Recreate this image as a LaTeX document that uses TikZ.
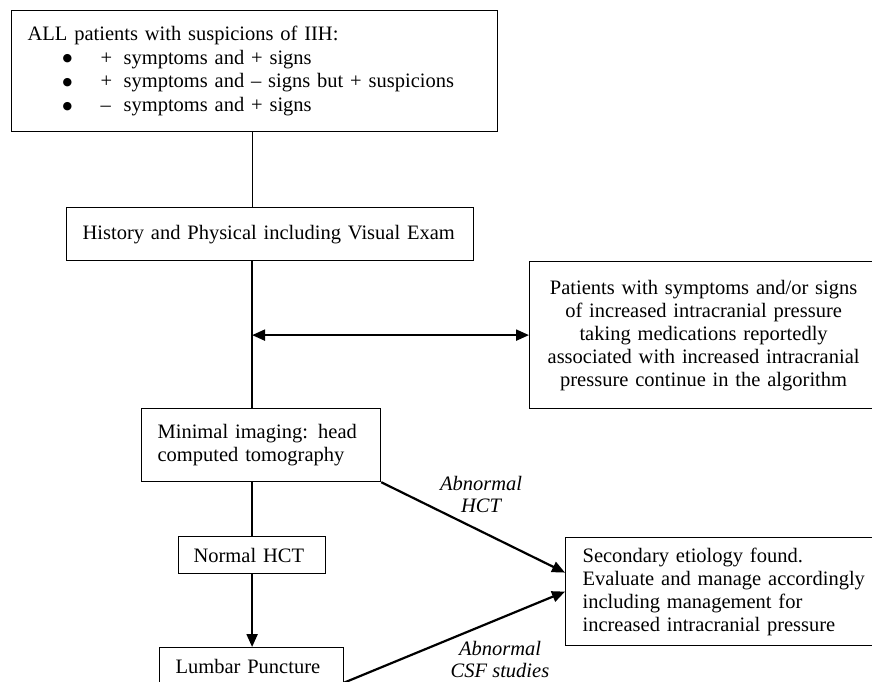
\documentclass[tikz,border=0pt]{standalone}
\usepackage{fontspec}
\setmainfont{Liberation Serif}
\newfontfamily\symfont{DejaVu Sans}
\usetikzlibrary{arrows.meta,calc}
\newcommand{\bigbul}{\makebox[38pt][l]{\raisebox{2.5pt}{\symfont\fontsize{11}{11}\selectfont ●}}}
\tikzset{
  box/.style={draw,line width=1.2pt,anchor=north west,inner xsep=16pt,inner ysep=0pt,align=left},
  wire/.style={line width=2.2pt},
  lbl/.style={font=\fontsize{20.5}{22}\selectfont\itshape,align=center},
}
\begin{document}
\begin{tikzpicture}[x=1pt,y=-1pt,>={Triangle[length=13pt,width=11pt]},font=\fontsize{20.5}{23}\selectfont]
\path[use as bounding box,fill=white] (0,0) rectangle (872,681);
% boxes on the left
\node[box,font=\fontsize{20.5}{23.7}\selectfont,text width=454pt,minimum height=121pt] (all) at (11,10){ALL patients with suspicions of IIH:\\
\hspace*{35pt}\bigbul\makebox[23pt][l]{+}symptoms and + signs\\
\hspace*{35pt}\bigbul\makebox[23pt][l]{+}symptoms and -- signs but + suspicions\\
\hspace*{35pt}\bigbul\makebox[23pt][l]{--}symptoms and + signs};
\node[box,text width=375pt,minimum height=53pt] (hist) at (66,207){History and Physical including Visual Exam};
\node[box,text width=207pt,minimum height=73pt] (mini) at (141,408){Minimal imaging: head\\computed tomography};
\node[box,inner xsep=15pt,text width=117pt,minimum height=37pt] (nhct) at (178,536){Normal HCT};
\node[box,text width=152pt,minimum height=70pt,text depth=32pt] (lp) at (159,647){Lumbar Puncture};
% boxes on the right
\node[box,align=center,text width=316pt,minimum height=147pt] (meds) at (529,261){Patients with symptoms and/or signs\\of increased intracranial pressure\\taking medications reportedly\\associated with increased intracranial\\pressure continue in the algorithm};
\node[box,inner xsep=17pt,text width=290pt,minimum height=108pt] (sec) at (565,537){Secondary etiology found.\\Evaluate and manage accordingly\\including management for\\increased intracranial pressure};
\coordinate (secin) at ([yshift=19pt]sec.west);
% connectors
\draw[line width=1.2pt] (all.south -| nhct) -- (hist.north -| nhct);
\draw[wire] (hist.south -| nhct) -- (mini.north -| nhct);
\draw[wire,<->] (meds.west -| nhct) -- (meds.west);
\draw[wire] (mini.south -| nhct) -- (nhct.north);
\draw[wire,->] (nhct.south) -- (lp.north -| nhct);
\draw[wire,->] (mini.south east) -- (secin);
\draw[wire,->] (lp.east) -- (sec.west);
\node[lbl] (abhct) at (481,494){Abnormal\\HCT};
\node[lbl] (abcsf) at (500,659){Abnormal\\CSF studies};
\end{tikzpicture}
\end{document}
